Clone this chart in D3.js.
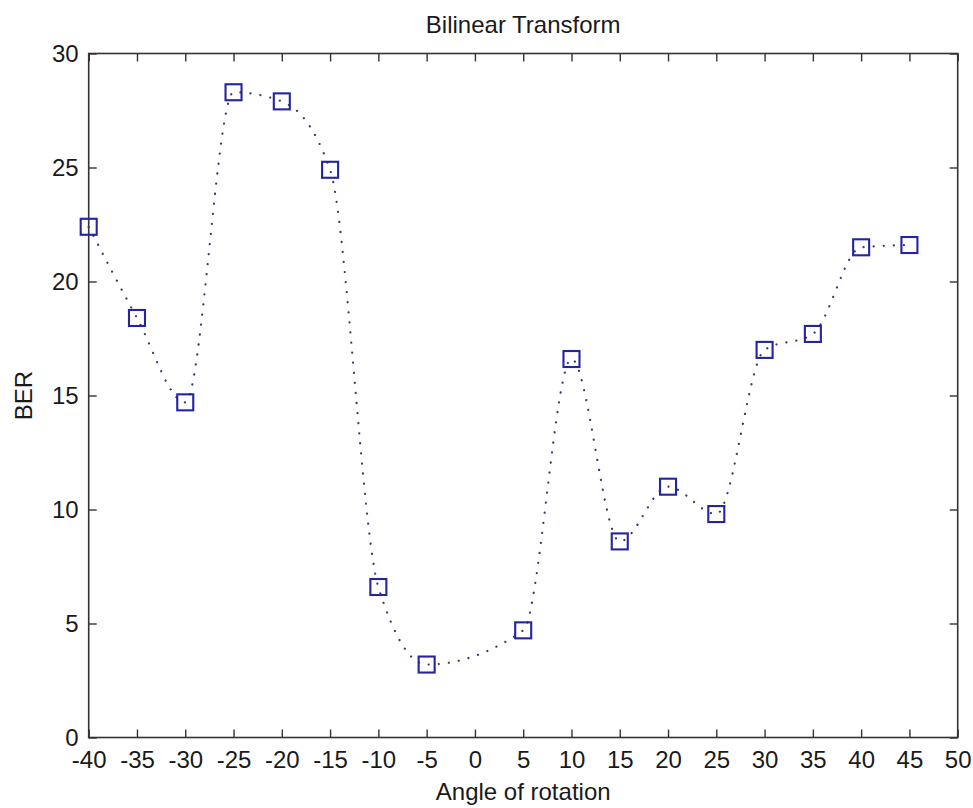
<!DOCTYPE html>
<html>
<head>
<meta charset="utf-8">
<script src="https://cdn.jsdelivr.net/npm/d3@7"></script>
<style>
  body { margin: 0; background: #fff; }
  text { font-family: "Liberation Sans", Arial, Helvetica, sans-serif; fill: #1a1a1a; }
</style>
</head>
<body>
<svg id="chart" width="973" height="808"></svg>
<script>
// Bit error rate measured at each rotation angle
const angles = [-40, -35, -30, -25, -20, -15, -10, -5, 5, 10, 15, 20, 25, 30, 35, 40, 45];
const ber    = [22.4, 18.4, 14.7, 28.3, 27.9, 24.9, 6.6, 3.2, 4.7, 16.6, 8.6, 11.0, 9.8, 17.0, 17.7, 21.5, 21.6];

const xTicks = [-40, -35, -30, -25, -20, -15, -10, -5, 0, 5, 10, 15, 20, 25, 30, 35, 40, 45, 50];
const yTicks = [0, 5, 10, 15, 20, 25, 30];

const titleText = "Bilinear Transform";
const xLabel = "Angle of rotation";
const yLabel = "BER";

const svg = d3.select("#chart");
const box = { left: 88.7, right: 957.7, top: 53.5, bottom: 737.5 };

const x = d3.scaleLinear().domain([-40, 50]).range([box.left, box.right]);
const y = d3.scaleLinear().domain([0, 30]).range([box.bottom, box.top]);

const fontSize = 24;
const tickLen = 8;
const axisColor = "#333";
// Plain hyphen for negative numbers
const fmt = d => String(d);

// Axes with inward ticks; top and right carry ticks only
function styleAxis(g) {
  g.select(".domain").remove();
  g.selectAll(".tick line").attr("stroke", axisColor).attr("stroke-width", 1.4);
  g.selectAll(".tick text").style("font-size", fontSize + "px").attr("fill", "#1a1a1a");
}

svg.append("g")
  .attr("transform", `translate(0,${box.bottom})`)
  .call(d3.axisBottom(x).tickValues(xTicks).tickSizeInner(-tickLen).tickSizeOuter(0).tickPadding(13).tickFormat(fmt))
  .call(styleAxis);

svg.append("g")
  .attr("transform", `translate(0,${box.top})`)
  .call(d3.axisTop(x).tickValues(xTicks).tickSizeInner(-tickLen).tickSizeOuter(0).tickFormat(""))
  .call(styleAxis);

svg.append("g")
  .attr("transform", `translate(${box.left},0)`)
  .call(d3.axisLeft(y).tickValues(yTicks).tickSizeInner(-tickLen).tickSizeOuter(0).tickPadding(10).tickFormat(fmt))
  .call(styleAxis);

svg.append("g")
  .attr("transform", `translate(${box.right},0)`)
  .call(d3.axisRight(y).tickValues(yTicks).tickSizeInner(-tickLen).tickSizeOuter(0).tickFormat(""))
  .call(styleAxis);

// Plot frame
svg.append("rect")
  .attr("x", box.left).attr("y", box.top)
  .attr("width", box.right - box.left).attr("height", box.bottom - box.top)
  .attr("fill", "none").attr("stroke", axisColor).attr("stroke-width", 1.6);

// Dotted interpolated curve through the measurements
const pts = angles.map((a, i) => [a, ber[i]]);
const line = d3.line()
  .x(d => x(d[0]))
  .y(d => y(d[1]))
  .curve(d3.curveMonotoneX);

svg.append("path")
  .datum(pts)
  .attr("d", line)
  .attr("fill", "none")
  .attr("stroke", "#3a3a70")
  .attr("stroke-width", 2.2)
  .attr("stroke-linecap", "round")
  .attr("stroke-dasharray", "0.1 10");

// Square markers
const s = 16;
svg.append("g")
  .selectAll("rect")
  .data(pts)
  .join("rect")
  .attr("x", d => x(d[0]) - s / 2)
  .attr("y", d => y(d[1]) - s / 2)
  .attr("width", s)
  .attr("height", s)
  .attr("fill", "none")
  .attr("stroke", "#2424a0")
  .attr("stroke-width", 2.1);

// Title and axis labels
const cx = (box.left + box.right) / 2;
svg.append("text")
  .attr("x", cx).attr("y", 33)
  .attr("text-anchor", "middle")
  .style("font-size", fontSize + "px")
  .text(titleText);

svg.append("text")
  .attr("x", cx).attr("y", 800)
  .attr("text-anchor", "middle")
  .style("font-size", fontSize + "px")
  .text(xLabel);

svg.append("text")
  .attr("transform", `translate(32,${(box.top + box.bottom) / 2}) rotate(-90)`)
  .attr("text-anchor", "middle")
  .style("font-size", fontSize + "px")
  .text(yLabel);
</script>
</body>
</html>
